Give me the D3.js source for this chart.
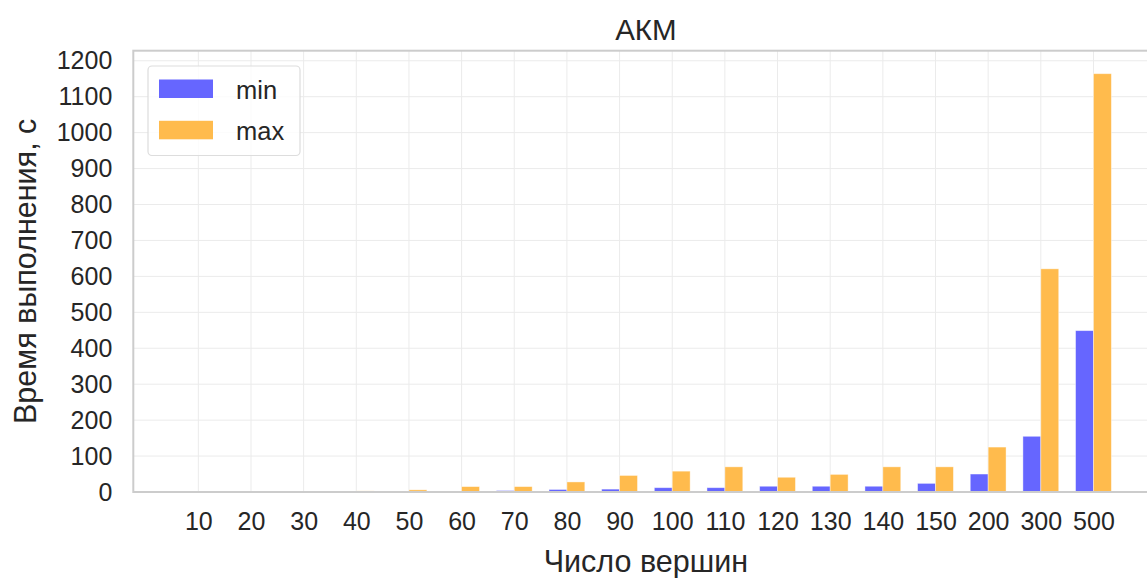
<!DOCTYPE html>
<html><head><meta charset="utf-8">
<script src="https://cdn.jsdelivr.net/npm/d3@7"></script>
<style>
body{margin:0;background:#fff;overflow:hidden}
text{font-family:"Liberation Sans",Arial,sans-serif;fill:#262626}
</style></head><body>
<svg id="c" width="1147" height="578"></svg>
<script>
const categories = ["10","20","30","40","50","60","70","80","90","100","110","120","130","140","150","200","300","500"];
const minValues = [0.05,0.1,0.3,0.5,1,2,4,7,8,12,12,16,16,16,24,50,155,449];
const maxValues = [0.1,0.3,1,3,6,15,15,28,46,58,70,41,49,70,70,125,621,1164];
const yTicks = [0,100,200,300,400,500,600,700,800,900,1000,1100,1200];
const seriesNames = ["min","max"];
const colors = ["#6666ff","#ffbb4d"];

const svg = d3.select("#c");
const L = 133.3, R = 1158.5, T = 50.7, B = 492;
const x = d3.scaleLinear().domain([-1.235, categories.length - 1 + 1.235]).range([L, R]);
const y = d3.scaleLinear().domain([0, 1228]).range([B, T]);
const bw = x(0.34) - x(0);
const FF = "'Liberation Sans',Arial,sans-serif";

// gridlines
const g = svg.append("g");
g.selectAll(".gy").data(yTicks).join("line")
  .attr("x1", L).attr("x2", R).attr("y1", d => y(d)).attr("y2", d => y(d))
  .attr("stroke", "#ebebeb").attr("stroke-width", 1);
g.selectAll(".gx").data(categories).join("line")
  .attr("x1", (d,i) => x(i)).attr("x2", (d,i) => x(i)).attr("y1", T).attr("y2", B)
  .attr("stroke", "#ebebeb").attr("stroke-width", 1);

// bars
[minValues, maxValues].forEach((vals, s) => {
  svg.append("g").selectAll("rect").data(vals).join("rect")
    .attr("x", (d,i) => s === 0 ? x(i) - bw : x(i))
    .attr("y", d => y(d))
    .attr("width", bw)
    .attr("height", d => B - y(d))
    .attr("fill", colors[s])
    .attr("stroke", "#fff").attr("stroke-opacity", 0.5).attr("stroke-width", 0.8);
});

// frame
svg.append("rect").attr("x", L).attr("y", T).attr("width", R - L).attr("height", B - T)
  .attr("fill", "none").attr("stroke", "#cccccc").attr("stroke-width", 2);

// axes
const xAxis = d3.axisBottom(x).tickValues(d3.range(categories.length))
  .tickFormat(i => categories[i]).tickSize(0).tickPadding(20);
const xa = svg.append("g").attr("transform", `translate(0,${B})`).call(xAxis);
xa.select(".domain").remove();
xa.selectAll("text").attr("font-size", 25).attr("dy", "0.71em").style("fill", "#262626")
  .style("font-family", FF);

const yAxis = d3.axisLeft(y).tickValues(yTicks).tickFormat(d3.format("d")).tickSize(0).tickPadding(21);
const ya = svg.append("g").attr("transform", `translate(${L},0)`).call(yAxis);
ya.select(".domain").remove();
ya.selectAll("text").attr("font-size", 25).style("fill", "#262626")
  .style("font-family", FF);

// title and labels
svg.append("text").attr("x", (L + R) / 2).attr("y", 40).attr("text-anchor", "middle")
  .attr("font-size", 29.5).text("АКМ");
svg.append("text").attr("x", (L + R) / 2).attr("y", 572).attr("text-anchor", "middle")
  .attr("font-size", 30.5).text("Число вершин");
svg.append("text").attr("transform", `translate(36,${(T + B) / 2}) rotate(-90)`)
  .attr("text-anchor", "middle").attr("font-size", 30.5).text("Время выполнения, с");

// legend
const lg = svg.append("g");
lg.append("rect").attr("x", 148).attr("y", 66).attr("width", 152).attr("height", 89.5)
  .attr("rx", 4).attr("fill", "#fff").attr("fill-opacity", 0.8)
  .attr("stroke", "#dddddd").attr("stroke-width", 1.2);
seriesNames.forEach((n, i) => {
  lg.append("rect").attr("x", 159).attr("y", 79.5 + i * 41.3).attr("width", 54).attr("height", 18.5)
    .attr("fill", colors[i]);
  lg.append("text").attr("x", 236).attr("y", 99 + i * 41).attr("font-size", 25.5).text(n);
});
</script>
</body></html>
